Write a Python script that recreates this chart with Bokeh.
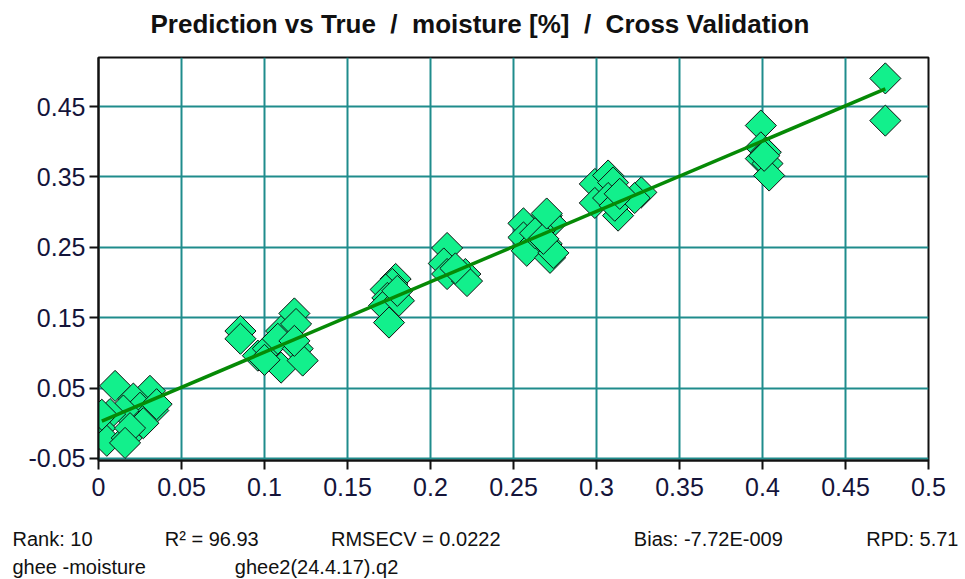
import numpy as np
from bokeh.plotting import figure
from bokeh.models import Range1d, FixedTicker, CustomJSTickFormatter, ColumnDataSource, Title
from bokeh.embed import file_html
from bokeh.resources import INLINE

# ---------------- data ----------------
true_vals = [0.010, 0.031, 0.021, 0.025, 0.033, 0.035, 0.015, 0.007, 0.001, 0.005, 0.017, 0.027, 0.019, 0.002, 0.016,
             0.0855, 0.0855,
             0.096, 0.102, 0.110, 0.108, 0.110, 0.118, 0.119, 0.120, 0.123, 0.118, 0.100,
             0.179, 0.177, 0.173, 0.174, 0.172, 0.175, 0.181, 0.180,
             0.210, 0.208, 0.210, 0.221, 0.222, 0.215,
             0.256, 0.270, 0.273, 0.256, 0.266, 0.258, 0.270, 0.272, 0.274, 0.263, 0.268, 0.270,
             0.299, 0.307, 0.310, 0.299, 0.307, 0.313, 0.311, 0.327, 0.323, 0.314,
             0.399, 0.399, 0.402, 0.399, 0.403, 0.404, 0.401,
             0.474, 0.474]
pred_vals = [0.053, 0.046, 0.035, 0.022, 0.018, 0.027, 0.018, 0.013, -0.007, -0.025, -0.021, 0.000, -0.007, 0.012, -0.028,
             0.131, 0.120,
             0.096, 0.106, 0.131, 0.120, 0.079, 0.156, 0.141, 0.106, 0.089, 0.117, 0.090,
             0.205, 0.198, 0.190, 0.178, 0.167, 0.143, 0.174, 0.188,
             0.249, 0.227, 0.212, 0.212, 0.202, 0.220,
             0.284, 0.295, 0.284, 0.264, 0.274, 0.245, 0.255, 0.235, 0.242, 0.270, 0.262, 0.298,
             0.340, 0.352, 0.342, 0.313, 0.320, 0.295, 0.309, 0.328, 0.320, 0.326,
             0.423, 0.392, 0.385, 0.376, 0.369, 0.352, 0.380,
             0.490, 0.430]

fit_x = [0.002, 0.474]
fit_y = [0.003, 0.475]

x_ticks = [0, 0.05, 0.1, 0.15, 0.2, 0.25, 0.3, 0.35, 0.4, 0.45, 0.5]
y_ticks = [-0.05, 0.05, 0.15, 0.25, 0.35, 0.45]

title_parts = ["Prediction vs True", "/", "moisture [%]", "/", "Cross Validation"]
footer_line1 = ["Rank: 10", "R\u00b2 = 96.93", "RMSECV = 0.0222", "Bias: -7.72E-009", "RPD: 5.71"]
footer_line2 = ["ghee -moisture", "ghee2(24.4.17).q2"]

# ---------------- layout / style ----------------
FONT = "Liberation Sans"
NB = "\u00a0"
W, H = 963, 579
FRAME_L, FRAME_R, FRAME_T, FRAME_B = 98, 928, 57, 460
gaps1 = [13, 13, 24, 15]   # non-breaking spaces between footer segments
gaps2 = [16]


def join_with(parts, gaps):
    s = parts[0]
    for g, t in zip(gaps, parts[1:]):
        s += NB * g + t
    return s


title_text = join_with(title_parts, [2, 2, 2, 2])
footer_text = join_with(footer_line1, gaps1) + "\n" + join_with(footer_line2, gaps2)

p = figure(width=W, height=H, output_backend="svg", toolbar_location=None,
           x_range=Range1d(0, 0.5), y_range=Range1d(-0.053, 0.5197),
           min_border_left=FRAME_L, min_border_right=W - FRAME_R,
           min_border_top=FRAME_T, min_border_bottom=H - FRAME_B)
p.background_fill_color = "white"
p.border_fill_color = "white"
p.outline_line_color = "#111111"
p.outline_line_width = 2

p.title.text = title_text
p.title.align = "left"
p.title.offset = 52
p.title.standoff = 0
p.title.text_font = FONT
p.title.text_font_size = "26px"
p.title.text_font_style = "bold"
p.title.text_color = "#111111"
# blank spacer between the title and the plot frame
p.add_layout(Title(text=NB, text_font_size="10px", standoff=6), "above")

for ax in (p.xaxis[0], p.yaxis[0]):
    ax.axis_line_color = "#111111"
    ax.axis_line_width = 2
    ax.major_tick_line_color = "#111111"
    ax.major_tick_line_width = 2
    ax.major_tick_in = 0
    ax.major_tick_out = 9
    ax.minor_tick_line_color = None
    ax.major_label_text_font = FONT
    ax.major_label_text_font_size = "25px"
    ax.major_label_text_color = "#14143a"
    ax.formatter = CustomJSTickFormatter(code="return String(Number(tick.toFixed(2)));")

p.xaxis[0].ticker = FixedTicker(ticks=x_ticks)
p.yaxis[0].ticker = FixedTicker(ticks=y_ticks)
p.xaxis[0].major_label_standoff = 8
p.yaxis[0].major_label_standoff = 4
# blank axis label used as a spacer above the statistics lines
p.xaxis[0].axis_label = NB
p.xaxis[0].axis_label_text_font_size = "10px"
p.xaxis[0].axis_label_standoff = 13

p.xgrid.ticker = FixedTicker(ticks=x_ticks)
p.ygrid.ticker = FixedTicker(ticks=y_ticks)
for g in (p.xgrid[0], p.ygrid[0]):
    g.grid_line_color = "#1f8c8c"
    g.grid_line_width = 2

src = ColumnDataSource(dict(x=true_vals, y=pred_vals))
p.scatter("x", "y", source=src, marker="square", size=22, angle=np.pi / 4,
          fill_color="#12f08c", line_color="#111111", line_width=1)
p.line(fit_x, fit_y, line_color="#068a06", line_width=3.5)

p.add_layout(Title(text=footer_text, align="left", offset=12 - FRAME_L, standoff=0,
                   text_font=FONT, text_font_size="20px", text_font_style="normal",
                   text_line_height=1.3, text_color="#111111"), "below")

open("out.html", "w").write(file_html(p, INLINE))
